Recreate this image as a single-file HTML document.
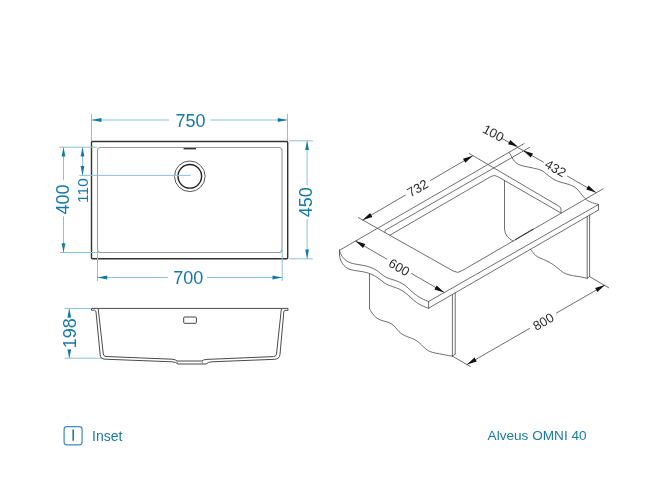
<!DOCTYPE html>
<html><head><meta charset="utf-8">
<style>
html,body{margin:0;padding:0;background:#fff;width:650px;height:500px;overflow:hidden}
svg{display:block;will-change:transform}
text{font-family:"Liberation Sans",sans-serif}
.dl{stroke:#8cc0d9;stroke-width:1;fill:none}
.ar{fill:#1479a4;stroke:none}
.dt{fill:#1479a4;font-size:18px}
.t3{fill:#2a2a2a;font-size:13px}
</style></head>
<body>
<svg width="650" height="500" viewBox="0 0 650 500">
<!-- ================= TOP VIEW ================= -->
<rect x="91.5" y="141.5" width="196.2" height="117.3" rx="1" fill="none" stroke="#333" stroke-width="1.4"/>
<rect x="97.5" y="147.5" width="184.5" height="105" rx="3" fill="none" stroke="#999" stroke-width="1.1"/>
<circle cx="189.8" cy="176.3" r="15.3" fill="none" stroke="#555" stroke-width="1"/>
<circle cx="189.8" cy="176.3" r="11.8" fill="none" stroke="#222" stroke-width="1.4"/>
<line x1="183.6" y1="148.7" x2="196" y2="148.7" stroke="#333" stroke-width="1.4"/>

<!-- 750 -->
<path class="dl" d="M91.5 114V141 M287.5 114V141 M91.5 120H169 M210.3 120H287.5"/>
<path class="ar" d="M91.5 120L101.5 118.1V121.9Z M287.5 120L277.8 118.1V121.9Z"/>
<text class="dt" x="190.5" y="126.7" text-anchor="middle">750</text>

<!-- 700 -->
<path class="dl" d="M97.5 250V281 M282.2 250V281 M97.5 277.5H167.8 M207 277.5H282.2"/>
<path class="ar" d="M97.5 277.5L107.2 275.6V279.4Z M282.2 277.5L272.5 275.6V279.4Z"/>
<text class="dt" x="188.2" y="284.2" text-anchor="middle">700</text>

<!-- 400 -->
<path class="dl" d="M59.4 147.2H97 M60 252.5H97 M63.5 147.2V180.2 M63.5 216.4V252.5"/>
<path class="ar" d="M63.5 147.2L61.6 156.5H65.4Z M63.5 252.5L61.6 243.2H65.4Z"/>
<text class="dt" transform="translate(69.2 199.6) rotate(-90)" text-anchor="middle">400</text>

<!-- 110 -->
<path class="dl" d="M82.5 147.2V175.4 M79.4 175.4H190.8"/>
<path class="ar" d="M82.5 147.2L80.6 156.5H84.4Z M82.5 175.4L80.6 166.1H84.4Z"/>
<text class="dt" style="font-size:15.5px" transform="translate(88.2 190.6) rotate(-90)" text-anchor="middle">110</text>

<!-- 450 -->
<path class="dl" d="M289 140.8H312.8 M289 258.8H312.8 M307.1 140.8V185.4 M307.1 219.2V258.8"/>
<path class="ar" d="M307.1 140.8L305.2 150.1H309Z M307.1 258.8L305.2 249.5H309Z"/>
<text class="dt" transform="translate(312.1 202.3) rotate(-90)" text-anchor="middle">450</text>

<!-- ================= PROFILE ================= -->
<path class="dl" d="M64.7 308.6H91.3 M64.7 358.2H103 M69.3 308.6V318 M69.3 349 V358.2"/>
<path class="ar" d="M69.3 308.6L67.4 317.5H71.2Z M69.3 358.2L67.4 349.5H71.2Z"/>
<text class="dt" transform="translate(75.8 333.2) rotate(-90)" text-anchor="middle">198</text>

<g fill="none" stroke="#4a4a4a" stroke-width="1">
<path d="M91.5 308.4H288 V310.4 H285 Q284 310.6 283.8 312 L280 354.5 Q279.5 359 274.6 359.3 L212 361.8 Q208 362 206 364 L178 364 Q176 362 172 361.8 L105 359.2 Q100.5 359 100.2 355 L96 312 Q95.8 310.4 94.6 310.2 H91.5Z"/>
<path d="M98.2 308.6 L103.3 354 Q103.6 356.4 106 356.5 L172 359.2 Q176 359.6 177 361 L202 361 Q203 359.6 207 359.4 L273.4 356.6 Q276.2 356.4 276.5 354 L281.4 308.6"/>
</g>
<path d="M177.2 361.2V363.8 M202.2 361.2V363.8" fill="none" stroke="#777" stroke-width="0.8"/>
<rect x="183.7" y="317" width="12.7" height="6.3" rx="1" fill="none" stroke="#444" stroke-width="1"/>

<!-- ================= FOOTER ================= -->
<rect x="64.1" y="426.7" width="18" height="18.1" rx="2.8" fill="none" stroke="#3d8db5" stroke-width="1.2"/>
<line x1="73.2" y1="429.6" x2="73.2" y2="440.8" stroke="#1a7aa5" stroke-width="1.6"/>
<text x="92" y="441" fill="#1a7aa5" style="font-size:14px">Inset</text>
<text x="487.6" y="440.2" fill="#1a7aa5" style="font-size:13.6px">Alveus OMNI 40</text>

<!-- ================= 3D VIEW ================= -->
<g id="iso">
<g fill="none" stroke="#555" stroke-width="0.85" stroke-linecap="round" stroke-linejoin="round">
<path d="M339.5 250.3L524.1 143.6"/>
<path d="M385 232.4L385 231.2Q385 229.8 386.8 229.4L529.6 147.4"/>
<path d="M389.7 235.3L491 176.5Q494.3 174.4 497.6 176.5L561 213"/>
<path d="M358.4 217.6L453.6 271.2Q457.8 273.8 462 270.7L603 188.9"/>
<path d="M469.3 153.5L557.6 205.4Q561 207 561 209L561 212.6"/>
<path d="M504.5 180.5L504.5 229Q505 237 513 241.1"/>
<path d="M428.6 301.5L598.5 204.5"/>
<path d="M428.6 308.2L598.5 210.0"/>
<path d="M428.6 301.5L428.6 308.2"/>
<path d="M598.5 204.5L598.5 210.0"/>
<path d="M339.5 250.0L339.5 255.0"/>
<path d="M339.5 250.0 C339.6 250.4 339.9 251.7 340.2 252.5 C340.5 253.3 340.8 254.2 341.3 255.0 C341.8 255.8 342.2 256.7 343.0 257.6 C343.8 258.5 344.8 259.6 346.0 260.5 C347.2 261.4 348.5 262.1 350.0 262.7 C351.5 263.3 353.2 263.6 355.0 264.0 C356.8 264.4 359.0 264.6 361.0 265.0 C363.0 265.4 365.2 265.7 367.0 266.2 C368.8 266.7 370.3 267.3 372.0 268.0 C373.7 268.7 375.5 269.6 377.0 270.6 C378.5 271.6 379.4 272.6 381.0 273.8 C382.6 275.0 384.6 276.6 386.6 277.6 C388.6 278.6 391.0 279.0 393.2 279.8 C395.4 280.6 397.8 281.3 399.8 282.3 C401.8 283.3 403.5 284.2 405.3 285.6 C407.1 287.0 409.0 289.0 410.8 290.6 C412.6 292.2 414.5 293.9 416.3 295.2 C418.1 296.5 419.8 297.6 421.8 298.6 C423.9 299.7 427.5 301.0 428.6 301.5"/>
<path d="M339.5 255.0 C339.6 255.5 339.7 256.8 340.0 258.0 C340.3 259.2 340.8 260.8 341.5 262.0 C342.2 263.2 343.1 264.5 344.0 265.5 C344.9 266.5 345.8 267.3 347.0 268.0 C348.2 268.7 349.5 269.2 351.0 269.7 C352.5 270.1 354.2 270.4 356.0 270.7 C357.8 271.0 360.0 271.2 362.0 271.6 C364.0 272.0 366.2 272.4 368.0 273.0 C369.8 273.6 371.3 274.2 373.0 275.0 C374.7 275.8 376.5 277.0 378.0 278.0 C379.5 279.0 380.6 279.9 382.0 281.0 C383.4 282.1 384.7 283.3 386.6 284.3 C388.5 285.3 391.0 286.0 393.2 286.8 C395.4 287.6 397.8 288.4 399.8 289.4 C401.8 290.4 403.5 291.4 405.3 292.8 C407.1 294.2 409.0 296.0 410.8 297.6 C412.6 299.2 414.5 301.0 416.3 302.3 C418.1 303.6 419.8 304.6 421.8 305.6 C423.9 306.6 427.5 307.8 428.6 308.2"/>
<path d="M508.8 152.2 C509.1 152.5 509.9 153.4 510.4 154.3 C510.9 155.2 511.3 156.2 512.0 157.4 C512.7 158.6 513.3 160.0 514.4 161.2 C515.5 162.4 516.8 163.6 518.4 164.4 C520.0 165.2 521.7 165.6 524.0 166.2 C526.3 166.8 529.2 167.1 532.0 167.8 C534.8 168.5 538.5 169.1 541.0 170.2 C543.5 171.3 545.0 173.0 547.0 174.5 C549.0 176.0 550.8 177.8 553.0 179.0 C555.2 180.2 557.5 181.1 560.0 182.0 C562.5 182.9 565.7 183.4 568.0 184.2 C570.3 185.0 572.3 185.7 574.0 186.7 C575.7 187.7 576.7 188.6 578.0 190.0 C579.3 191.4 580.8 193.6 582.0 195.0 C583.2 196.4 584.0 197.4 585.0 198.4 C586.0 199.4 587.0 200.2 588.0 200.8 C589.0 201.4 589.9 201.8 591.0 202.2 C592.1 202.6 593.2 203.0 594.5 203.4 C595.8 203.8 597.8 204.3 598.5 204.5"/>
<path d="M369.5 273.8L369.5 308.4"/>
<path d="M369.5 308.4 C369.9 309.2 370.9 311.5 372.2 313.2 C373.4 314.9 375.2 317.0 377.0 318.3 C378.8 319.6 381.0 320.1 383.0 320.8 C385.0 321.5 387.2 321.8 389.0 322.6 C390.8 323.4 392.4 324.4 393.8 325.6 C395.2 326.8 396.2 328.5 397.4 329.8 C398.6 331.1 399.6 332.4 401.0 333.4 C402.4 334.4 404.0 335.2 405.8 336.0 C407.6 336.8 410.3 337.8 411.8 338.4 C413.3 339.0 413.8 339.1 415.0 339.8 C416.2 340.5 417.8 341.4 419.2 342.6 C420.6 343.8 422.0 345.5 423.4 346.8 C424.8 348.1 426.1 349.4 427.6 350.3 C429.1 351.2 430.5 351.8 432.5 352.4 C434.5 353.0 437.2 353.3 439.5 353.8 C441.8 354.3 444.4 354.8 446.5 355.2 C448.6 355.6 451.4 356.0 452.4 356.2"/>
<path d="M452.4 294.4L452.4 356.2"/>
<path d="M455.2 292.8L455.2 354.1"/>
<path d="M452.4 356.2L455.2 354.1"/>
<path d="M587.2 216.4L587.2 278.3"/>
<path d="M589.6 215.0L589.6 276.5"/>
<path d="M587.2 278.3L589.6 276.5"/>
<path d="M530.5 249.2 C530.9 249.7 532.2 251.5 533.0 252.5 C533.8 253.5 534.3 254.4 535.5 255.3 C536.7 256.2 538.1 257.1 540.0 258.0 C541.9 258.9 544.8 259.9 547.0 261.0 C549.2 262.1 551.2 263.3 553.0 264.5 C554.8 265.7 556.3 267.0 558.0 268.4 C559.7 269.8 561.7 271.6 563.4 272.6 C565.1 273.6 566.5 274.0 568.0 274.5 C569.5 275.0 570.4 275.2 572.4 275.6 C574.4 276.0 577.5 276.4 580.0 276.8 C582.5 277.2 586.0 278.1 587.2 278.3"/>
<path d="M452.4 356.2L470.4 366.5"/>
<path d="M589.6 276.6L608.7 287.8"/>
<path d="M467.0 364.5L529.5 328.5"/>
<path d="M556.5 313.0L604.9 285.1"/>
<path d="M355.5 241.0L386.6 259.0"/>
<path d="M411.4 273.4L444.2 292.4"/>
<path d="M362.6 220.1L405.4 195.1"/>
<path d="M430.6 180.4L472.8 155.7"/>
<path d="M501.6 138.2L543.5 162.2"/>
<path d="M567.5 176.2L596.0 192.6"/>
</g>
<path fill="#111" d="M467.0 364.5L476.8 361.5L474.5 357.5ZM604.9 285.1L595.1 288.1L597.4 292.1ZM355.5 241.0L363.0 248.0L365.3 244.0ZM444.2 292.4L436.7 285.4L434.4 289.4ZM362.6 220.1L372.4 217.0L370.1 213.1ZM472.8 155.7L463.0 158.8L465.3 162.7ZM518.0 146.8L510.2 140.1L508.1 144.2ZM523.2 150.6L530.7 157.6L533.0 153.6ZM596.0 192.6L588.5 185.6L586.2 189.6Z"/>
<path d="M515 239.9L533.5 228.9" stroke="#333" stroke-width="1.1"/>
<text class="t3" transform="translate(417.4 188.0) rotate(-30.3)" text-anchor="middle" dy="4.7">732</text>
<text class="t3" transform="translate(399.3 267.2) rotate(30.1)" text-anchor="middle" dy="4.7">600</text>
<text class="t3" transform="translate(543.3 321.6) rotate(-29.9)" text-anchor="middle" dy="4.7">800</text>
<text class="t3" transform="translate(555.6 168.2) rotate(30.0)" text-anchor="middle" dy="4.7">432</text>
<text class="t3" transform="translate(493.5 132.8) rotate(27.7)" text-anchor="middle" dy="4.7">100</text>

</g>
</svg>
</body></html>
